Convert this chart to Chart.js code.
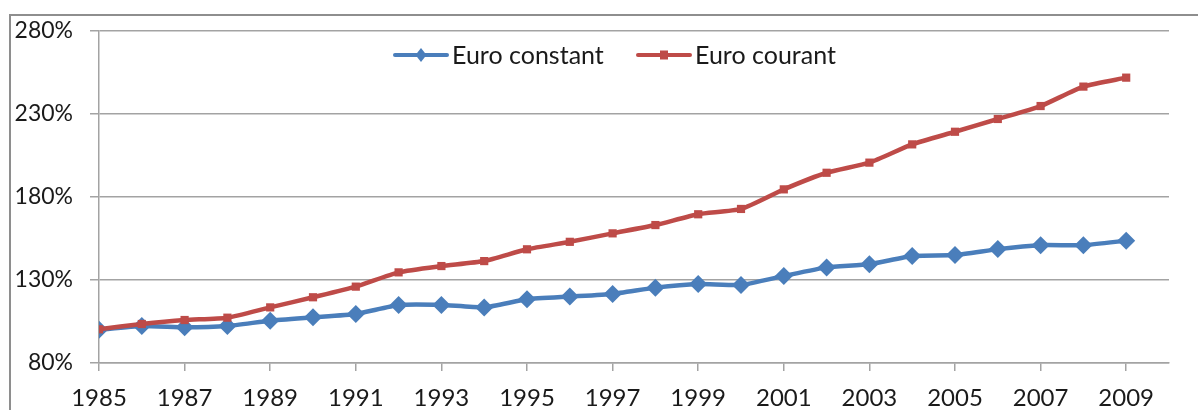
<!DOCTYPE html>
<html>
<head>
<meta charset="utf-8">
<script src="https://cdn.jsdelivr.net/npm/chart.js@4.4.1/dist/chart.umd.min.js"></script>
<style>
  html, body { margin: 0; padding: 0; background: #fff; }
  #wrap { position: relative; width: 1198px; height: 410px; overflow: hidden; }
  #frame { position: absolute; left: 9px; top: 14px; width: 1300px; height: 500px;
           border-left: 2px solid #8e8e8e; border-top: 2px solid #8e8e8e; }
  canvas { position: absolute; left: 0; top: 0; }
</style>
</head>
<body>
<div id="wrap">
  <div id="frame"></div>
  <canvas id="chart" width="1198" height="410"></canvas>
</div>
<script>
// données (base 100 en 1985)
const years = [1985, 1986, 1987, 1988, 1989, 1990, 1991, 1992, 1993, 1994, 1995, 1996,
  1997, 1998, 1999, 2000, 2001, 2002, 2003, 2004, 2005, 2006, 2007, 2008, 2009];
const euroConstant = [100, 102.3, 101.5, 102.3, 105.5, 107.5, 109.5, 114.9, 115, 113.5, 118.4, 120,
  121.6, 125.4, 127.6, 127, 132.4, 137.6, 139.5, 144.5, 145, 148.6, 151, 151, 153.7];
const euroCourant = [100.3, 103.5, 105.9, 107.3, 113.5, 119.6, 126, 134.6, 138.4, 141.4, 148.5, 153,
  158.1, 163.1, 169.6, 172.8, 184.6, 194.6, 200.7, 211.7, 219.3, 227, 234.8, 246.5, 251.9];
const yTicks = [80, 130, 180, 230, 280];
const seriesNames = ['Euro constant', 'Euro courant'];

const BLUE = '#4a7ebb';
const RED = '#be4b48';
const GRID = '#a3a3a3';
const TEXT = '#1a1a1a';
const FONT = 'Lato, "Liberation Sans", sans-serif';

// légende dessinée dans la zone de tracé, comme dans Excel
const insideLegend = {
  id: 'insideLegend',
  afterDraw(chart) {
    const ctx = chart.ctx;
    const items = [
      { x: 393, color: BLUE, kind: 'diamond', text: seriesNames[0] },
      { x: 636, color: RED, kind: 'square', text: seriesNames[1] }
    ];
    const y = 55;
    ctx.save();
    ctx.font = '25px ' + FONT;
    ctx.textBaseline = 'middle';
    ctx.textAlign = 'left';
    items.forEach(it => {
      ctx.strokeStyle = it.color;
      ctx.fillStyle = it.color;
      ctx.lineWidth = 4;
      ctx.lineCap = 'round';
      ctx.beginPath();
      ctx.moveTo(it.x + 2, y);
      ctx.lineTo(it.x + 54, y);
      ctx.stroke();
      const cx = it.x + 28;
      if (it.kind === 'diamond') {
        ctx.beginPath();
        ctx.moveTo(cx, y - 7); ctx.lineTo(cx + 5.5, y); ctx.lineTo(cx, y + 7); ctx.lineTo(cx - 5.5, y);
        ctx.closePath();
        ctx.fill();
      } else {
        ctx.fillRect(cx - 4, y - 4.5, 8, 9);
      }
      ctx.fillStyle = TEXT;
      ctx.fillText(it.text, it.x + 59, y + 1);
    });
    ctx.restore();
  }
};

Chart.defaults.font.family = FONT;
Chart.defaults.font.size = 23;
Chart.defaults.color = TEXT;

new Chart(document.getElementById('chart'), {
  type: 'line',
  data: {
    datasets: [
      {
        label: seriesNames[0],
        data: years.map((y, i) => ({ x: y, y: euroConstant[i] })),
        borderColor: BLUE,
        backgroundColor: BLUE,
        borderWidth: 4.5,
        borderCapStyle: 'round',
        borderJoinStyle: 'round',
        tension: 0.15,
        pointStyle: 'rectRot',
        pointRadius: 9,
        pointBorderWidth: 0,
        order: 1
      },
      {
        label: seriesNames[1],
        data: years.map((y, i) => ({ x: y, y: euroCourant[i] })),
        borderColor: RED,
        backgroundColor: RED,
        borderWidth: 4.5,
        borderCapStyle: 'round',
        borderJoinStyle: 'round',
        tension: 0.2,
        pointStyle: 'rect',
        pointRadius: 5.8,
        pointBorderWidth: 0,
        order: 0
      }
    ]
  },
  options: {
    responsive: false,
    animation: false,
    layout: { padding: { top: 31, right: 29, left: 0, bottom: 0 } },
    scales: {
      x: {
        type: 'linear',
        min: 1985,
        max: 2010,
        afterFit: s => { s.height = 47; },
        afterBuildTicks: s => {
          s.ticks = years.filter((y, i) => i % 2 === 0).map(v => ({ value: v }));
        },
        ticks: {
          padding: 13,
          autoSkip: false,
          maxRotation: 0,
          font: { size: 24 },
          callback: v => String(v)
        },
        grid: {
          drawOnChartArea: false,
          drawTicks: true,
          tickLength: 8,
          color: GRID,
          lineWidth: 1.5
        },
        border: { display: true, color: GRID, width: 1.5 }
      },
      y: {
        min: 80,
        max: 280,
        afterFit: s => { s.width = 99; },
        afterBuildTicks: s => { s.ticks = yTicks.map(v => ({ value: v })); },
        ticks: {
          padding: 17,
          callback: v => v + '%'
        },
        grid: {
          color: GRID,
          lineWidth: 1.5,
          tickLength: 9
        },
        border: { display: true, color: GRID, width: 1.5 }
      }
    },
    plugins: {
      tooltip: { enabled: false },
      legend: { display: false }
    }
  },
  plugins: [insideLegend]
});
</script>
</body>
</html>
